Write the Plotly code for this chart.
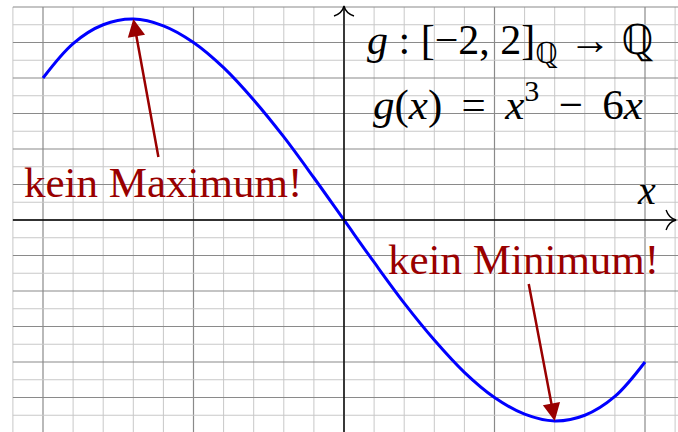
import plotly.graph_objects as go

# Curve values (g(x) = x^3 - 6x on [-2, 2])
x_vals = [-2.0, -1.8, -1.6, -1.4, -1.2, -1.0, -0.8, -0.6, -0.4, -0.2, 0.0,
          0.2, 0.4, 0.6, 0.8, 1.0, 1.2, 1.4, 1.6, 1.8, 2.0]
y_vals = [4.0, 4.97, 5.50, 5.66, 5.47, 5.0, 4.29, 3.38, 2.34, 1.19, 0.0,
          -1.19, -2.34, -3.38, -4.29, -5.0, -5.47, -5.66, -5.50, -4.97, -4.0]

label_max = "kein Maximum!"
label_min = "kein Minimum!"
title_line1 = "<i>g</i> : [−2, 2]<sub>ℚ</sub> → ℚ"
title_line2 = "<i>g</i>(<i>x</i>)\u2009 = \u2009<i>x</i><sup>3</sup>\u2009 − \u20096<i>x</i>"
axis_label = "<i>x</i>"

# grid extents (in data units)
grid_x = [round(-2.2 + 0.2 * k, 2) for k in range(23)]
grid_y = [round(-6.5 + 0.5 * k, 2) for k in range(26)]

DARKRED = "rgb(153,0,0)"
shapes = []
for gx in grid_x:
    major = abs(gx - round(gx)) < 1e-9
    shapes.append(dict(type="line", xref="x", yref="y", x0=gx, x1=gx, y0=-7, y1=6,
                       line=dict(color="#8a8a8a" if major else "#c8c8c8", width=1.2 if major else 1),
                       layer="below"))
for gy in grid_y:
    if gy > 6:
        continue
    major = abs(gy - round(gy)) < 1e-9
    shapes.append(dict(type="line", xref="x", yref="y", x0=-2.2, x1=2.22, y0=gy, y1=gy,
                       line=dict(color="#8a8a8a" if major else "#c8c8c8", width=1.2 if major else 1),
                       layer="below"))
# axes
shapes.append(dict(type="line", xref="x", yref="y", x0=-2.2, x1=2.2, y0=0, y1=0,
                   line=dict(color="black", width=1.4)))
shapes.append(dict(type="line", xref="x", yref="y", x0=0, x1=0, y0=-7, y1=6,
                   line=dict(color="black", width=1.4)))
# arrow tips (TikZ "to" style)
shapes.append(dict(type="path", xref="x", yref="y", xsizemode="pixel", ysizemode="pixel",
                   xanchor=2.2, yanchor=0,
                   path="M -9,-10 C -7,-4 -3,-1 1,0 C -3,1 -7,4 -9,10",
                   line=dict(color="black", width=1.4)))
shapes.append(dict(type="path", xref="x", yref="y", xsizemode="pixel", ysizemode="pixel",
                   xanchor=0, yanchor=6,
                   path="M -10,-9 C -4,-7 -1,-3 0,1 C 1,-3 4,-7 10,-9",
                   line=dict(color="black", width=1.4)))

fig = go.Figure()
fig.add_trace(go.Scatter(x=x_vals, y=y_vals, mode="lines",
                         line=dict(color="rgb(0,0,255)", width=3, shape="spline", smoothing=1.0),
                         hoverinfo="skip"))

imax = y_vals.index(max(y_vals))
imin = y_vals.index(min(y_vals))

annotations = [
    dict(x=x_vals[imax], y=y_vals[imax], ax=-1.203, ay=1.07, xref="x", yref="y", axref="x", ayref="y",
         text=label_max, showarrow=True, arrowhead=2, arrowsize=1.4, arrowwidth=2.5, arrowcolor=DARKRED,
         font=dict(family="Liberation Serif", size=43, color=DARKRED)),
    dict(x=x_vals[imin], y=y_vals[imin], ax=1.196, ay=-1.10, xref="x", yref="y", axref="x", ayref="y",
         text=label_min, showarrow=True, arrowhead=2, arrowsize=1.4, arrowwidth=2.5, arrowcolor=DARKRED,
         font=dict(family="Liberation Serif", size=43, color=DARKRED)),
    dict(x=1.103, y=4.99, text=title_line1, showarrow=False,
         font=dict(family="Liberation Serif", size=42, color="black")),
    dict(x=1.09, y=3.33, text=title_line2, showarrow=False,
         font=dict(family="Liberation Serif", size=43, color="black")),
    dict(x=2.007, y=0.845, text=axis_label, showarrow=False,
         font=dict(family="Liberation Serif", size=40, color="black")),
]

fig.update_layout(
    width=678, height=432,
    margin=dict(l=0, r=0, t=0, b=0),
    paper_bgcolor="white", plot_bgcolor="white",
    showlegend=False,
    xaxis=dict(range=[-2.2857, 2.2193], showgrid=False, zeroline=False, showticklabels=False,
               ticks="", showline=False, fixedrange=True),
    yaxis=dict(range=[-5.972, 6.197], showgrid=False, zeroline=False, showticklabels=False,
               ticks="", showline=False, fixedrange=True),
    shapes=shapes,
    annotations=annotations,
)

fig.write_html("out.html", config={"displayModeBar": False},
               post_script="document.body.style.margin='0px';")
